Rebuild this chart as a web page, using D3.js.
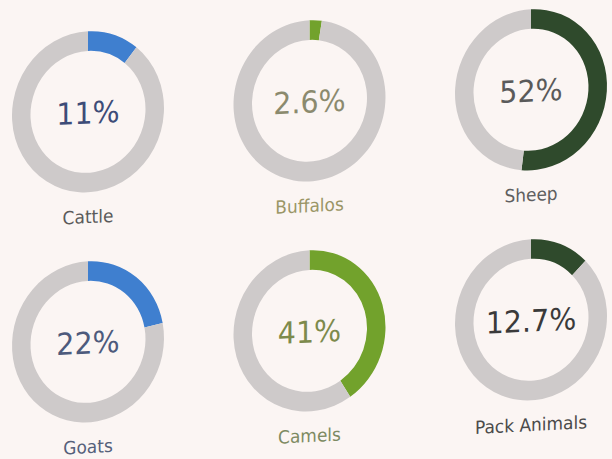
<!DOCTYPE html>
<html>
<head>
<meta charset="utf-8">
<script src="https://cdn.jsdelivr.net/npm/d3@7"></script>
<style>
  html, body { margin: 0; padding: 0; background: #fbf5f3; }
  svg { display: block; font-family: "DejaVu Sans", Verdana, sans-serif; }
</style>
</head>
<body>
<div id="chart"></div>
<script>
// data
const categories = ['Cattle', 'Buffalos', 'Sheep', 'Goats', 'Camels', 'Pack Animals'];
const shares = [11, 2.6, 52, 22, 41, 12.7];
const shareLabels = ['11%', '2.6%', '52%', '22%', '41%', '12.7%'];

// styles
const arcColors = ['#3f7fcf', '#72a22c', '#2f4a2c', '#3f7fcf', '#72a22c', '#2f4a2c'];
const valueColors = ['#3d4c78', '#8b8a6e', '#5a5a5a', '#4d5a7c', '#7d8a4c', '#3a3a3a'];
const nameColors = ['#5a5a5a', '#9a9666', '#5f5f5f', '#55607a', '#7d8a62', '#4a4a4a'];

const width = 612;
const height = 459;
const outerR = 76;
const innerR = 57.5;

const svg = d3.select('#chart').append('svg')
  .attr('width', width)
  .attr('height', height);

// photo is a bit tilted: right side sits higher
const chartArea = svg.append('g')
  .attr('transform', `translate(306,0) skewY(-2.85) translate(-306,0)`);

const xScale = d3.scalePoint().domain([0, 1, 2]).range([88, 531]);
const yScale = d3.scalePoint().domain([0, 1]).range([101, 331]);

const arc = d3.arc().innerRadius(innerR).outerRadius(outerR);
const pie = d3.pie().sort(null).value((d) => d);

const cells = chartArea.selectAll('.donut')
  .data(categories.map((c, i) => ({ name: c, value: shares[i], label: shareLabels[i], i })))
  .join('g')
  .attr('class', 'donut')
  .attr('transform', (d) => `translate(${xScale(d.i % 3)},${yScale(Math.floor(d.i / 3))}) scale(1,1.06)`);

cells.selectAll('path')
  .data((d) => pie([d.value, 100 - d.value]).map((p, k) => ({ p, k, i: d.i })))
  .join('path')
  .attr('d', (d) => arc(d.p))
  .attr('fill', (d) => (d.k === 0 ? arcColors[d.i] : '#cecaca'));

cells.append('text')
  .attr('text-anchor', 'middle')
  .attr('y', 11)
  .attr('font-size', 28.5)
  .attr('fill', (d) => valueColors[d.i])
  .text((d) => d.label);

cells.append('text')
  .attr('text-anchor', 'middle')
  .attr('y', 105)
  .attr('font-size', 17)
  .attr('fill', (d) => nameColors[d.i])
  .text((d) => d.name);
</script>
</body>
</html>
